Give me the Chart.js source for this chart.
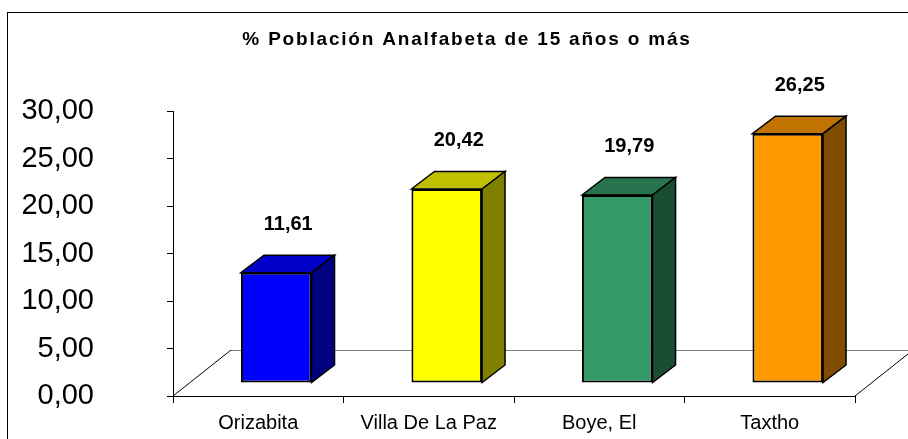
<!DOCTYPE html>
<html><head><meta charset="utf-8">
<script src="https://cdn.jsdelivr.net/npm/chart.js@4"></script>
<style>html,body{margin:0;padding:0;background:#fff;overflow:hidden}</style>
</head><body>
<canvas id="c" width="908" height="439"></canvas>
<script>
// ---- data ----
const categories = ['Orizabita', 'Villa De La Paz', 'Boye, El', 'Taxtho'];
const values = [11.61, 20.42, 19.79, 26.25];
const yTicks = [0, 5, 10, 15, 20, 25, 30];
const titleText = '% Población Analfabeta de 15 años o más';

// ---- styles ----
const frontColors = ['#0000FF', '#FFFF00', '#339966', '#FF9900'];
const topColors = ['#0000C8', '#C0C000', '#27734D', '#C07300'];
const sideColors = ['#000080', '#808000', '#1B4D33', '#804D00'];
const FONT = "'Liberation Sans', Arial, sans-serif";
const FLOOR_DX = 58, FLOOR_DY = -46;   // floor depth
const BAR_DX = 18, BAR_DY = -13;       // bars sit mid-depth on floor
const DEPTH_DX = 23, DEPTH_DY = -17.5; // bar extrusion
const LABEL_DX = 12, LABEL_GAP = 43;
const TITLE_X = 467, TITLE_Y = 45;

const fmt = v => Number(v).toFixed(2).replace('.', ',');

const frame3d = {
  id: 'frame3d',
  beforeDatasetsDraw(chart) {
    const ctx = chart.ctx, ca = chart.chartArea;
    ctx.save();
    ctx.lineWidth = 1;
    ctx.strokeStyle = '#808080';
    ctx.beginPath();
    ctx.moveTo(ca.left + FLOOR_DX, Math.round(ca.bottom + FLOOR_DY) + 0.5);
    ctx.lineTo(ca.right + FLOOR_DX, Math.round(ca.bottom + FLOOR_DY) + 0.5);
    ctx.stroke();
    ctx.strokeStyle = '#000';
    ctx.beginPath();
    ctx.moveTo(ca.left, ca.bottom);
    ctx.lineTo(ca.left + FLOOR_DX, ca.bottom + FLOOR_DY);
    ctx.moveTo(ca.right, ca.bottom);
    ctx.lineTo(ca.right + FLOOR_DX, ca.bottom + FLOOR_DY);
    ctx.stroke();
    ctx.restore();
  },
  beforeDatasetDraw(chart) {
    chart.ctx.save();
    chart.ctx.translate(BAR_DX, BAR_DY);
  },
  afterDatasetDraw(chart, args) {
    const ctx = chart.ctx;
    args.meta.data.forEach((el, i) => {
      const L = el.x - el.width / 2, R = el.x + el.width / 2, T = el.y, B = el.base;
      ctx.lineWidth = 1.5;
      ctx.strokeStyle = '#000';
      ctx.lineJoin = 'miter';
      // top face
      ctx.beginPath();
      ctx.moveTo(L, T); ctx.lineTo(L + DEPTH_DX, T + DEPTH_DY);
      ctx.lineTo(R + DEPTH_DX, T + DEPTH_DY); ctx.lineTo(R, T); ctx.closePath();
      ctx.fillStyle = topColors[i]; ctx.fill(); ctx.stroke();
      // side face
      ctx.beginPath();
      ctx.moveTo(R, T); ctx.lineTo(R + DEPTH_DX, T + DEPTH_DY);
      ctx.lineTo(R + DEPTH_DX, B + DEPTH_DY); ctx.lineTo(R, B); ctx.closePath();
      ctx.fillStyle = sideColors[i]; ctx.fill(); ctx.stroke();
      // value label
      ctx.fillStyle = '#000';
      ctx.font = 'bold 20px ' + FONT;
      ctx.textAlign = 'center';
      ctx.textBaseline = 'alphabetic';
      ctx.fillText(fmt(values[i]), el.x + LABEL_DX, T - LABEL_GAP);
    });
    ctx.restore();
  },
  afterDraw(chart) {
    const ctx = chart.ctx;
    ctx.save();
    ctx.strokeStyle = '#000';
    ctx.lineWidth = 1;
    ctx.strokeRect(7.5, 12.5, 1200, 1200);
    ctx.fillStyle = '#000';
    ctx.font = 'bold 19px ' + FONT;
    try { ctx.letterSpacing = '1.8px'; } catch (e) {}
    ctx.textAlign = 'center';
    ctx.textBaseline = 'alphabetic';
    ctx.fillText(titleText, TITLE_X, TITLE_Y);
    ctx.restore();
  }
};

new Chart(document.getElementById('c'), {
  type: 'bar',
  data: {
    labels: categories,
    datasets: [{
      data: values,
      backgroundColor: frontColors,
      borderColor: '#000',
      borderWidth: 2,
      borderSkipped: false,
      barPercentage: 0.414,
      categoryPercentage: 1,
      clip: false
    }]
  },
  options: {
    responsive: false,
    animation: false,
    devicePixelRatio: 1,
    layout: { padding: { left: 0, right: 53, top: 111, bottom: 0 } },
    plugins: { legend: { display: false }, tooltip: { enabled: false }, title: { display: false } },
    scales: {
      x: {
        offset: true,
        grid: { offset: true, drawOnChartArea: false, drawTicks: true, tickLength: 7, color: '#000' },
        border: { display: true, color: '#000', width: 1 },
        ticks: { padding: 8, color: '#000', font: { family: FONT, size: 20 }, maxRotation: 0, autoSkip: false },
        afterFit(s) { s.height = 43; s.paddingLeft = 0; s.paddingRight = 0; }
      },
      y: {
        min: 0, max: 30,
        afterBuildTicks(s) { s.ticks = yTicks.map(v => ({ value: v })); },
        grid: { drawOnChartArea: false, drawTicks: true, tickLength: 6, color: '#000' },
        border: { display: true, color: '#000', width: 1 },
        ticks: { padding: 73, color: '#000', font: { family: FONT, size: 29 }, callback: v => fmt(v) },
        afterFit(s) { s.width = 173; s.paddingTop = 0; s.paddingBottom = 0; }
      }
    }
  },
  plugins: [frame3d]
});
</script>
</body></html>
